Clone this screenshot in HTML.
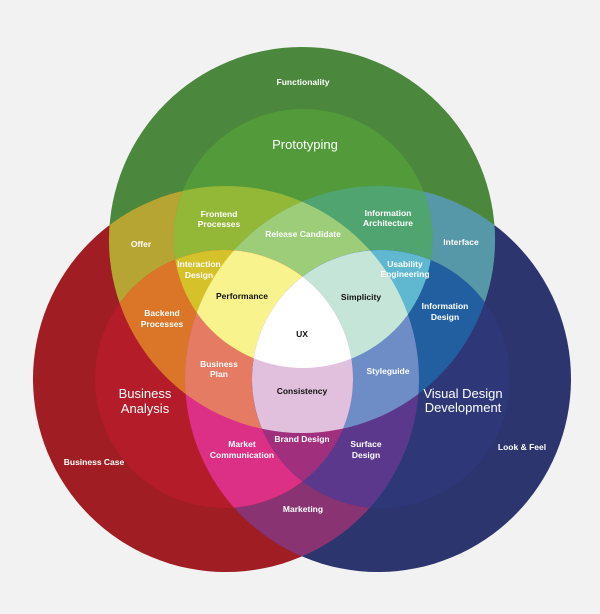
<!DOCTYPE html>
<html><head><meta charset="utf-8"><style>
html,body{margin:0;padding:0;background:#f2f2f2;}
svg{display:block;}
text{font-family:"Liberation Sans",sans-serif;text-anchor:middle;fill:#fff;font-size:8.5px;font-weight:bold;}
.k{fill:#111;}
.big{font-size:13px;font-weight:normal;}
</style></head><body>
<svg width="600" height="614" viewBox="0 0 600 614" xmlns="http://www.w3.org/2000/svg">
<defs>
<clipPath id="cG"><circle cx="302" cy="240" r="193"/></clipPath>
<clipPath id="cR"><circle cx="226" cy="379" r="193"/></clipPath>
<clipPath id="cB"><circle cx="378" cy="379" r="193"/></clipPath>
<clipPath id="mG"><circle cx="303" cy="238.5" r="129.5"/></clipPath>
<clipPath id="mR"><circle cx="224" cy="379" r="129"/></clipPath>
<clipPath id="mB"><circle cx="381" cy="379" r="129"/></clipPath>
<circle id="CG" cx="302" cy="240" r="193"/>
<circle id="CR" cx="226" cy="379" r="193"/>
<circle id="CB" cx="378" cy="379" r="193"/>
<circle id="MG" cx="303" cy="238.5" r="129.5"/>
<circle id="MR" cx="224" cy="379" r="129"/>
<circle id="MB" cx="381" cy="379" r="129"/>
</defs>
<rect width="600" height="614" fill="#f2f2f2"/>
<use href="#CR" fill="#a01e23"/>
<use href="#CB" fill="#2c356e"/>
<use href="#CG" fill="#4b873c"/>
<g clip-path="url(#cG)"><use href="#CR" fill="#b6a532"/></g>
<g clip-path="url(#cG)"><use href="#CB" fill="#5698a8"/></g>
<g clip-path="url(#cR)"><use href="#CB" fill="#8a3372"/></g>
<use href="#MG" fill="#529a3a"/>
<g clip-path="url(#cR)"><use href="#MG" fill="#93b736"/></g>
<g clip-path="url(#cB)"><use href="#MG" fill="#50a470"/></g>
<g clip-path="url(#cR)"><g clip-path="url(#cB)"><use href="#MG" fill="#9dcd78"/></g></g>
<use href="#MR" fill="#b31c28"/>
<g clip-path="url(#cG)"><use href="#MR" fill="#db7629"/></g>
<g clip-path="url(#cB)"><use href="#MR" fill="#dc2f86"/></g>
<g clip-path="url(#cG)"><g clip-path="url(#cB)"><use href="#MR" fill="#e57b63"/></g></g>
<use href="#MB" fill="#2e3878"/>
<g clip-path="url(#cG)"><use href="#MB" fill="#215fa0"/></g>
<g clip-path="url(#cR)"><use href="#MB" fill="#5c388c"/></g>
<g clip-path="url(#cG)"><g clip-path="url(#cR)"><use href="#MB" fill="#6e8cc6"/></g></g>
<g clip-path="url(#mG)"><use href="#MR" fill="#d5c22a"/></g>
<g clip-path="url(#mG)"><g clip-path="url(#cB)"><use href="#MR" fill="#f8f38c"/></g></g>
<g clip-path="url(#mG)"><use href="#MB" fill="#5fb8d0"/></g>
<g clip-path="url(#mG)"><g clip-path="url(#cR)"><use href="#MB" fill="#c5e5d8"/></g></g>
<g clip-path="url(#mR)"><use href="#MB" fill="#a0307e"/></g>
<g clip-path="url(#mR)"><g clip-path="url(#cG)"><use href="#MB" fill="#e0c0dc"/></g></g>
<g clip-path="url(#mG)"><g clip-path="url(#mR)"><use href="#MB" fill="#ffffff"/></g></g>

<text x="303" y="85">Functionality</text>
<text x="305" y="149" class="big">Prototyping</text>
<text x="219" y="217">Frontend</text><text x="219" y="227">Processes</text>
<text x="388" y="216">Information</text><text x="388" y="226">Architecture</text>
<text x="303" y="237">Release Candidate</text>
<text x="141" y="247">Offer</text>
<text x="461" y="245">Interface</text>
<text x="199" y="267">Interaction</text><text x="199" y="278">Design</text>
<text x="405" y="267">Usability</text><text x="405" y="277">Engineering</text>
<text x="242" y="299" class="k">Performance</text>
<text x="361" y="300" class="k">Simplicity</text>
<text x="162" y="316">Backend</text><text x="162" y="327">Processes</text>
<text x="445" y="309">Information</text><text x="445" y="320">Design</text>
<text x="302" y="337" class="k">UX</text>
<text x="219" y="367">Business</text><text x="219" y="377">Plan</text>
<text x="388" y="374">Styleguide</text>
<text x="145" y="398" class="big">Business</text><text x="145" y="413" class="big">Analysis</text>
<text x="463" y="398" class="big">Visual Design</text><text x="463" y="412" class="big">Development</text>
<text x="302" y="394" class="k">Consistency</text>
<text x="302" y="442">Brand Design</text>
<text x="242" y="447">Market</text><text x="242" y="458">Communication</text>
<text x="366" y="447">Surface</text><text x="366" y="458">Design</text>
<text x="522" y="450">Look &amp; Feel</text>
<text x="94" y="465">Business Case</text>
<text x="303" y="512">Marketing</text>
</svg>
</body></html>
